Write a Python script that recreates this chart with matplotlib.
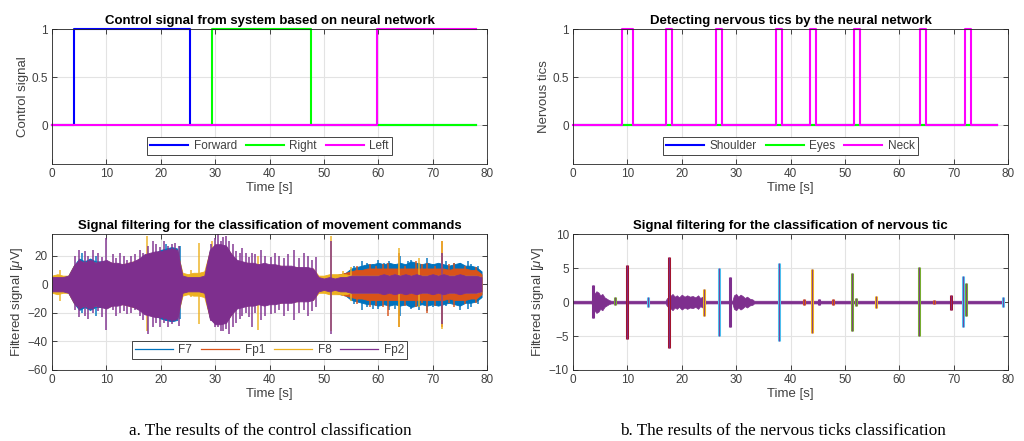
import numpy as np
import matplotlib
matplotlib.use("Agg")
import matplotlib.pyplot as plt
from matplotlib.lines import Line2D

plt.rcParams['font.family'] = ['Liberation Sans', 'DejaVu Sans']
plt.rcParams['mathtext.fontset'] = 'custom'
plt.rcParams['mathtext.it'] = 'Liberation Sans:italic'
plt.rcParams['mathtext.rm'] = 'Liberation Sans'

# ---- top left: control signal (step changes) ----
fwd_t = [0, 4.0, 25.3, 78]
fwd_v = [0, 1, 0, 0]
right_t = [0, 29.5, 47.6, 78]
right_v = [0, 1, 0, 0]
left_t = [0, 59.8, 78]
left_v = [0, 1, 1]

# ---- top right: detected tics (neck pulses) ----
neck_on = [9.0, 17.1, 26.3, 37.4, 43.5, 51.7, 63.9, 72.0]
neck_off = [11.1, 18.2, 27.4, 38.5, 44.6, 52.7, 64.9, 73.1]
tic_end = 78

# ---- bottom left: EEG envelope (|amplitude| per second, uV) ----
eeg_t = np.arange(80)
amp_F7 = [5, 5, 5, 6, 13, 18, 16, 18, 16, 16, 16, 14, 14, 13, 14, 15, 17, 20, 21, 22,
          24, 25, 26, 25, 6, 5, 6, 6, 6, 23, 27, 27, 26, 20, 16, 15, 14, 14, 13, 14,
          13, 13, 12, 12, 12, 11, 11, 11, 10, 5, 4, 5, 6, 7, 8, 11, 12, 13, 14, 14,
          15, 14, 15, 14, 15, 14, 16, 15, 14, 15, 14, 15, 14, 13, 14, 15, 13, 13, 12, 9]
amp_Fp1 = [5, 5, 5, 5, 12, 15, 14, 15, 14, 14, 15, 14, 14, 13, 14, 15, 16, 19, 20, 21,
           21, 22, 23, 22, 6, 5, 5, 5, 6, 22, 26, 26, 25, 20, 16, 15, 14, 14, 13, 13,
           13, 13, 12, 12, 12, 11, 11, 11, 10, 5, 4, 5, 6, 7, 8, 9, 10, 10, 11, 11,
           11, 11, 11, 11, 11, 11, 11, 11, 11, 11, 11, 11, 11, 10, 11, 11, 11, 10, 10, 7]
amp_F8 = [6, 7, 6, 6, 13, 16, 15, 16, 15, 15, 16, 15, 14, 14, 15, 16, 17, 20, 21, 22,
          22, 23, 24, 23, 8, 7, 8, 8, 9, 23, 27, 27, 26, 21, 16, 15, 15, 14, 14, 14,
          13, 13, 13, 12, 12, 12, 11, 11, 11, 6, 6, 7, 7, 7, 7, 6, 6, 6, 6, 6,
          6, 6, 6, 6, 6, 6, 6, 6, 6, 6, 6, 6, 6, 6, 6, 6, 6, 6, 6, 5]
amp_Fp2 = [5, 5, 5, 6, 13, 17, 15, 17, 15, 16, 17, 15, 15, 14, 15, 16, 18, 21, 22, 23,
           23, 24, 25, 24, 6, 5, 5, 5, 6, 24, 28, 28, 27, 21, 17, 16, 15, 15, 14, 15,
           14, 14, 13, 13, 13, 12, 12, 12, 11, 5, 4, 5, 4, 5, 5, 6, 6, 6, 6, 6,
           6, 7, 6, 7, 6, 7, 6, 7, 6, 6, 7, 6, 7, 6, 6, 7, 6, 6, 6, 5]

# isolated peaks: (time, top, bottom)
peaks_F7 = [(5.5, 22, -20), (8, 20, -22), (21, 28, -26), (23.5, 27, -24), (55.5, 13, -14),
            (57, 16, -18), (58, 15, -16), (59, 14, -17), (60, 17, -17), (61, 15, -14),
            (62, 16, -18), (63, 14, -17), (64, 20, -22), (65.5, 16, -15), (66, 17, -17),
            (67.5, 15, -18), (69, 18, -19), (70, 14, -16), (72.5, 16, -15), (74, 15, -14),
            (75, 15, -18), (76.5, 16, -17), (77, 14, -16), (78.3, 13, -14)]
peaks_Fp1 = [(56, 13, -14), (58.5, 14, -16), (59.5, 13, -15), (60.8, 14, -16), (61.8, 15, -22),
             (63.8, 22, -30), (65, 13, -15), (67, 16, -16), (68, 14, -13), (69, 15, -20),
             (70.5, 13, -15), (71.8, 30, -30), (73, 14, -13), (74, 15, -16), (76, 13, -14),
             (78, 12, -13)]
peaks_F8 = [(1.5, 10, -12), (17.4, 34, -33), (25.5, 10, -9), (27, 29, -28), (29.5, 30, -25),
            (37.8, 20, -32), (51.3, 34, -33), (53.5, 9, -8), (55, 12, -12), (63.8, 25, -30),
            (67.5, 18, -16), (71.7, 30, -31)]
peaks_Fp2 = [(4.3, 20, -18), (5.0, 24, -23), (6, 23, -22), (6.6, 20, -24), (7.5, 24, -20),
             (8.4, 22, -19), (9.2, 19, -23), (10, 32, -32), (11.2, 21, -18), (11.8, 18, -22),
             (12.5, 22, -20), (13.2, 20, -19), (13.8, 17, -21), (14.5, 20, -20), (15.3, 21, -18),
             (16.2, 24, -22), (16.8, 22, -25), (17.7, 27, -35), (18.5, 30, -30), (19.2, 28, -27),
             (19.8, 26, -30), (20.6, 30, -27), (21.4, 27, -30), (22, 28, -28), (22.6, 29, -26),
             (23.3, 27, -29), (29.3, 28, -26), (29.9, 32, -30), (30.5, 35, -30), (31.0, 30, -33),
             (31.5, 33, -33), (32.0, 34, -31), (32.5, 30, -35), (33.2, 28, -30), (33.8, 23, -27),
             (34.5, 22, -24), (35, 25, -22), (35.7, 22, -20), (36.2, 19, -23), (36.7, 22, -30),
             (37.3, 21, -20), (38.5, 24, -25), (39.2, 20, -22), (40.2, 19, -21), (41, 22, -20),
             (41.8, 20, -18), (42.6, 18, -22), (43.4, 21, -19), (44.5, 24, -25), (45.5, 18, -20),
             (46.3, 22, -18), (47, 20, -22), (47.8, 17, -19), (48.5, 19, -16), (51.3, 30, -35),
             (71.8, 22, -28)]

# ---- bottom right: tic EEG ----
tic_env_t = [0, 3.4, 3.9, 4.3, 4.7, 5.0, 5.4, 5.8, 6.2, 6.6, 7.0, 17.0, 17.3, 17.9, 18.3,
             18.7, 19.1, 19.5, 20.0, 20.5, 21.0, 21.5, 22.0, 22.5, 23.0, 23.4, 23.8, 24.4,
             29.3, 29.6, 30.0, 30.4, 30.8, 31.2, 31.6, 32.0, 32.5, 33.0, 33.3, 79]
tic_env_amp = [0.2, 0.2, 1.2, 1.6, 1.4, 1.0, 1.2, 0.7, 0.5, 0.3, 0.2, 0.2, 0.6, 0.9, 1.2,
               0.8, 1.0, 0.7, 1.1, 0.8, 1.0, 0.8, 0.9, 0.7, 1.0, 0.6, 0.8, 0.2,
               0.2, 1.0, 1.2, 0.8, 1.1, 0.9, 0.6, 0.8, 0.5, 0.4, 0.2, 0.2]
tic_peak_t = [3.6, 7.7, 10.0, 13.7, 17.6, 24.0, 26.8, 28.8, 37.9, 42.5, 44.0, 45.2, 47.8,
              51.3, 52.0, 55.7, 63.7, 66.3, 69.5, 71.7, 72.2, 79.0]
tic_peak_hi = [2.5, 0.7, 5.5, 0.7, 6.7, 2.0, 5.0, 3.7, 5.8, 0.5, 4.8, 0.5, 0.4,
               4.3, 0.6, 0.9, 5.1, 0.3, 1.1, 3.8, 2.8, 0.7]
tic_peak_lo = [-2.4, -0.5, -5.5, -0.7, -6.7, -2.0, -5.0, -3.6, -5.8, -0.5, -4.6, -0.5, -0.4,
               -4.2, -0.6, -0.9, -5.0, -0.3, -1.1, -3.7, -2.0, -0.7]

C_BLUE, C_ORANGE, C_YELLOW, C_PURPLE = '#0072BD', '#D95319', '#EDB120', '#7E2F8E'
C_GREEN, C_CYAN, C_RED = '#77AC30', '#4DBEEE', '#A2142F'
tic_peak_col = [C_PURPLE, C_GREEN, C_RED, C_CYAN, C_RED, C_YELLOW, C_CYAN, C_PURPLE, C_CYAN,
                C_ORANGE, C_YELLOW, C_PURPLE, C_ORANGE, C_GREEN, C_GREEN, C_YELLOW, C_GREEN,
                C_ORANGE, C_RED, C_CYAN, C_GREEN, C_CYAN]

TXT = '#404040'


def style(ax, xlabel, ylabel, title):
    ax.set_xlim(0, 80)
    ax.set_xticks(range(0, 81, 10))
    ax.grid(True, color='#e3e3e3', lw=0.8)
    ax.set_axisbelow(True)
    ax.tick_params(direction='in', length=3.5, width=0.6, top=True, right=True,
                   labelsize=8.5, colors='#262626', labelcolor=TXT, pad=3)
    for s in ax.spines.values():
        s.set_color('#262626')
        s.set_linewidth(0.6)
        s.set_zorder(20)
    ax.set_xlabel(xlabel, fontsize=9.5, color=TXT, labelpad=1)
    ax.set_ylabel(ylabel, fontsize=9.5, color=TXT, labelpad=2)
    ax.set_title(title, fontsize=9.5, fontweight='bold', pad=4)


def legend(ax, handles, labels, y):
    lg = ax.legend(handles, labels, loc='center', bbox_to_anchor=(0.5, y), ncol=len(labels),
                   fontsize=8.5, frameon=True, fancybox=False, edgecolor='#262626',
                   framealpha=1, borderpad=0.25, handlelength=3.2, columnspacing=0.75,
                   handletextpad=0.5, borderaxespad=0)
    lg.get_frame().set_linewidth(0.6)
    lg.set_zorder(30)
    for t in lg.get_texts():
        t.set_color(TXT)


fig = plt.figure(figsize=(10.24, 4.41), dpi=100)
ax1 = fig.add_axes([0.0508, 0.628, 0.4248, 0.306])
ax2 = fig.add_axes([0.5596, 0.628, 0.4248, 0.306])
ax3 = fig.add_axes([0.0508, 0.161, 0.4248, 0.308])
ax4 = fig.add_axes([0.5596, 0.161, 0.4248, 0.308])

# top left
h1, = ax1.plot(fwd_t, fwd_v, drawstyle='steps-post', color='#0000FF', lw=1.5, clip_on=False)
h2, = ax1.plot(right_t, right_v, drawstyle='steps-post', color='#00FF00', lw=1.5, clip_on=False)
h3, = ax1.plot(left_t, left_v, drawstyle='steps-post', color='#FF00FF', lw=1.5, clip_on=False)
ax1.set_ylim(-0.4, 1)
ax1.set_yticks([0, 0.5, 1])
ax1.set_yticklabels(['0', '0.5', '1'])
style(ax1, 'Time [s]', 'Control signal', 'Control signal from system based on neural network')
legend(ax1, [h1, h2, h3], ['Forward', 'Right', 'Left'], 0.135)

# top right
neck_t = [0]
neck_v = [0]
for a, b in zip(neck_on, neck_off):
    neck_t += [a, b]
    neck_v += [1, 0]
neck_t.append(tic_end)
neck_v.append(0)
g1, = ax2.plot([0, tic_end], [0, 0], color='#0000FF', lw=1.5)
g2, = ax2.plot([0, tic_end], [0, 0], color='#00FF00', lw=1.5)
g3, = ax2.plot(neck_t, neck_v, drawstyle='steps-post', color='#FF00FF', lw=1.5, clip_on=False)
ax2.set_ylim(-0.4, 1)
ax2.set_yticks([0, 0.5, 1])
ax2.set_yticklabels(['0', '0.5', '1'])
style(ax2, 'Time [s]', 'Nervous tics', 'Detecting nervous tics by the neural network')
legend(ax2, [g1, g2, g3], ['Shoulder', 'Eyes', 'Neck'], 0.135)

# bottom left
chans = [('F7', amp_F7, peaks_F7, C_BLUE), ('Fp1', amp_Fp1, peaks_Fp1, C_ORANGE),
         ('F8', amp_F8, peaks_F8, C_YELLOW), ('Fp2', amp_Fp2, peaks_Fp2, C_PURPLE)]
handles = []
for i, (name, amp, peaks, col) in enumerate(chans):
    amp = np.array(amp)
    ax3.fill_between(eeg_t, -amp, amp, color=col, lw=0.6, edgecolor=col, zorder=2 + i)
    pt = [p[0] for p in peaks]
    ax3.vlines(pt, [p[2] for p in peaks], [p[1] for p in peaks], color=col, lw=1.3,
               alpha=0.8, zorder=2 + i)
    handles.append(Line2D([], [], color=col, lw=0.9))
ax3.set_ylim(-60, 35)
ax3.set_yticks([-60, -40, -20, 0, 20])
style(ax3, 'Time [s]', r'Filtered signal [$\mu$V]',
      'Signal filtering for the classification of movement commands')
legend(ax3, handles, ['F7', 'Fp1', 'F8', 'Fp2'], 0.147)

# bottom right
env = np.array(tic_env_amp)
ax4.fill_between(tic_env_t, -env, env, color=C_PURPLE, lw=0.5, edgecolor=C_PURPLE)
ax4.vlines(tic_peak_t, tic_peak_lo, tic_peak_hi, colors=tic_peak_col, lw=2.2)
ax4.vlines(tic_peak_t, tic_peak_lo, tic_peak_hi, colors=C_PURPLE, lw=0.6)
ax4.set_ylim(-10, 10)
ax4.set_yticks([-10, -5, 0, 5, 10])
style(ax4, 'Time [s]', r'Filtered signal [$\mu$V]',
      'Signal filtering for the classification of nervous tic')

fig.text(0.264, 0.023, 'a. The results of the control classification', ha='center', va='center',
         fontsize=12.3, family='Liberation Serif')
fig.text(0.7645, 0.023, 'b. The results of the nervous ticks classification', ha='center',
         va='center', fontsize=12.3, family='Liberation Serif')

fig.savefig('out.png', dpi=100)
